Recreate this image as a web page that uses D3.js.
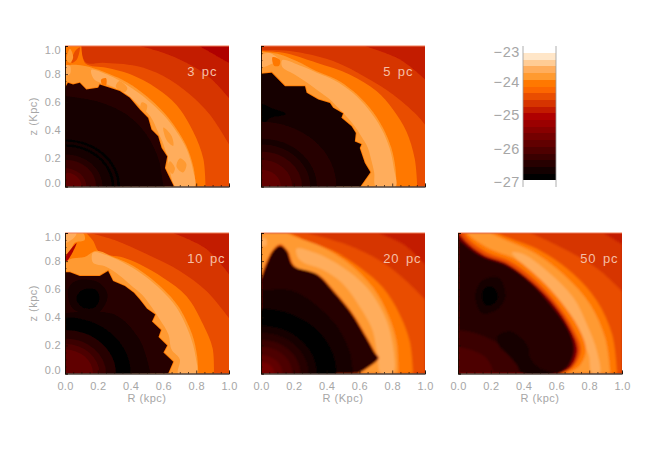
<!DOCTYPE html>
<html>
<head>
<meta charset="utf-8">
<script src="https://cdn.jsdelivr.net/npm/d3@7"></script>
<style>
  body { margin: 0; background: #fff; }
  text { font-family: "Liberation Sans", sans-serif; fill: #a6a6a6; }
</style>
</head>
<body>
<div id="chart"></div>
<script>
// log density colour bands, -27 (black) up to -23 (white), 0.2 dex each
const bandEdges = [-27, -26.8, -26.6, -26.4, -26.2, -26, -25.8, -25.6, -25.4, -25.2, -25,
  -24.8, -24.6, -24.4, -24.2, -24, -23.8, -23.6, -23.4, -23.2, -23];
const bandColors = ["#000000", "#130000", "#270000", "#3a0000", "#4e0000", "#610000", "#740000",
  "#880000", "#9b0000", "#af0000", "#c31a00", "#d63400", "#e94d00", "#fc6600", "#ff7800",
  "#ff9a30", "#ffad5c", "#ffcc95", "#ffe6c8", "#ffffff"];
const barTicks = [-27, -26, -25, -24, -23];
const axisTicks = [0, 0.2, 0.4, 0.6, 0.8, 1];
const axisMinor = [0.05, 0.1, 0.15, 0.25, 0.3, 0.35, 0.45, 0.5, 0.55, 0.65, 0.7, 0.75, 0.85, 0.9, 0.95];

// contours in kpc as [R, z], outer bands first; each one is filled down to the origin.
// "r" is a ring about the origin, "blob" a closed patch, "rim" marks a shock edge
const panel3pc = [
  { band: 10, pts: [[1, 0.88], [0.91, 0.94], [0.82, 1]], outer: 9 },
  { band: 11, pts: [[1, 0.63], [0.884, 0.774], [0.741, 0.88], [0.6, 0.952], [0.456, 1]] },
  { band: 12, pts: [[1, 0.3], [0.884, 0.51], [0.762, 0.655], [0.6, 0.786], [0.436, 0.857], [0.232, 0.881], [0.13, 0.881], [0.09, 1]] },
  { band: 14, pts: [[0.857, 0], [0.843, 0.2], [0.782, 0.39], [0.68, 0.58], [0.558, 0.7], [0.395, 0.8], [0.253, 0.845], [0.125, 0.875], [0.1, 1]] },
  { band: 15, pts: [[0.796, 0], [0.785, 0.13], [0.74, 0.29], [0.68, 0.41], [0.6, 0.53], [0.5, 0.64], [0.38, 0.74], [0.27, 0.8], [0.15, 0.85], [0.08, 0.865], [0.02, 0.86], [0, 0.83]] },
  { band: 16, blob: [[0.16, 0.83], [0.27, 0.79], [0.38, 0.72], [0.5, 0.62], [0.6, 0.51], [0.68, 0.39], [0.74, 0.27], [0.78, 0.12], [0.79, 0], [0.67, 0], [0.645, 0.083], [0.625, 0.2], [0.6, 0.3], [0.57, 0.38], [0.52, 0.5], [0.45, 0.58], [0.37, 0.66], [0.27, 0.72], [0.18, 0.76]] },
  { band: 15, blob: [[0.6, 0.42], [0.65, 0.36], [0.66, 0.29], [0.62, 0.33]] },
  { band: 15, blob: [[0.7, 0.2], [0.74, 0.16], [0.72, 0.1], [0.68, 0.14]] },
  { band: 15, blob: [[0.47, 0.6], [0.5, 0.58], [0.49, 0.53], [0.46, 0.56]] },
  { band: 15, blob: [[0.64, 0.18], [0.67, 0.13], [0.655, 0.09], [0.63, 0.13]] },
  { band: 15, blob: [[0.33, 0.75], [0.38, 0.7], [0.36, 0.67], [0.31, 0.71]] },
  { band: 14, blob: [[0.22, 0.76], [0.25, 0.77], [0.25, 0.72], [0.23, 0.72]] },
  { band: 16, blob: [[0, 0.86], [0.03, 0.86], [0.03, 0.8], [0, 0.79]] },
  { band: 12, blob: [[0.04, 0.88], [0.06, 0.96], [0.09, 0.99], [0.07, 0.9]] },
  { band: 15, blob: [[0.01, 0.9], [0.03, 0.98], [0.05, 0.92], [0.03, 0.88]] },
  { band: 2, rim: 14, pts: [[0.664, 0], [0.629, 0.083], [0.609, 0.131], [0.623, 0.214], [0.589, 0.274], [0.568, 0.357], [0.527, 0.405], [0.507, 0.488], [0.456, 0.548], [0.395, 0.631], [0.334, 0.679], [0.273, 0.702], [0.212, 0.726], [0.202, 0.702], [0.13, 0.69], [0.09, 0.738], [0.049, 0.726], [0.018, 0.738], [0, 0.702]] },
  { band: 1, pts: [[0.599, 0], [0.589, 0.083], [0.568, 0.202], [0.497, 0.369], [0.375, 0.512], [0.191, 0.607], [0, 0.643]] },
  { band: 0, r: 0.335 }, { band: 1, r: 0.32 }, { band: 0, r: 0.3 }, { band: 1, r: 0.285 },
  { band: 2, r: 0.23 }, { band: 3, r: 0.19 }, { band: 4, r: 0.13 }, { band: 5, r: 0.1 }
];
const panel5pc = [
  { band: 11, pts: [[1, 0.762], [0.846, 0.905], [0.633, 1]], outer: 10 },
  { band: 12, pts: [[1, 0.44], [0.947, 0.512], [0.805, 0.655], [0.643, 0.774], [0.44, 0.893], [0.176, 0.964], [0, 0.97]] },
  { band: 14, pts: [[0.953, 0], [0.937, 0.2], [0.886, 0.393], [0.805, 0.548], [0.704, 0.679], [0.54, 0.798], [0.339, 0.881], [0.136, 0.952], [0, 0.965]] },
  { band: 15, pts: [[0.826, 0], [0.82, 0.131], [0.795, 0.274], [0.744, 0.417], [0.663, 0.56], [0.562, 0.679], [0.46, 0.762], [0.339, 0.821], [0.217, 0.893], [0.116, 0.94], [0, 0.96]] },
  { band: 16, blob: [[0.82, 0], [0.81, 0.13], [0.785, 0.27], [0.735, 0.41], [0.655, 0.55], [0.555, 0.67], [0.45, 0.755], [0.34, 0.81], [0.25, 0.855], [0.13, 0.9], [0.13, 0.85], [0.2, 0.8], [0.28, 0.74], [0.35, 0.68], [0.42, 0.62], [0.47, 0.56], [0.52, 0.5], [0.57, 0.43], [0.61, 0.36], [0.65, 0.28], [0.67, 0.2], [0.69, 0.1], [0.7, 0]] },
  { band: 16, blob: [[0, 0.93], [0.05, 0.95], [0.11, 0.9], [0.06, 0.87], [0, 0.85]] },
  { band: 14, blob: [[0.07, 0.92], [0.115, 0.9], [0.11, 0.86], [0.08, 0.86]] },
  { band: 1, rim: 14, pts: [[0.606, 0], [0.667, 0.102], [0.633, 0.167], [0.602, 0.274], [0.612, 0.3], [0.572, 0.321], [0.578, 0.38], [0.552, 0.429], [0.49, 0.49], [0.5, 0.52], [0.44, 0.56], [0.42, 0.595], [0.349, 0.619], [0.278, 0.667], [0.268, 0.714], [0.146, 0.714], [0.065, 0.81], [0, 0.802]] },
  { band: 0, blob: [[0, 0.585], [0.06, 0.56], [0.15, 0.515], [0.06, 0.49], [0, 0.44]] },
  { band: 0, blob: [[0, 0.44], [0.05, 0.42], [0.07, 0.38], [0.05, 0.35], [0, 0.36]] },
  { band: 2, r: 0.46 }, { band: 1, r: 0.34 }, { band: 2, r: 0.3 }, { band: 3, r: 0.25 },
  { band: 4, r: 0.19 }, { band: 5, r: 0.12 }
];
const panel10pc = [
  { band: 11, pts: [[1, 0.706], [0.864, 0.885], [0.66, 1]], outer: 10 },
  { band: 12, pts: [[1, 0.395], [0.864, 0.586], [0.7, 0.73], [0.497, 0.85], [0.314, 0.945], [0.15, 1]] },
  { band: 14, pts: [[0.908, 0], [0.9, 0.18], [0.843, 0.347], [0.741, 0.55], [0.6, 0.68], [0.456, 0.777], [0.354, 0.825], [0.212, 0.861], [0.171, 0.945], [0.13, 1]] },
  { band: 15, pts: [[0.813, 0], [0.805, 0.13], [0.775, 0.28], [0.69, 0.48], [0.6, 0.6], [0.5, 0.7], [0.395, 0.78], [0.293, 0.83], [0.191, 0.873], [0.12, 0.83], [0.05, 0.82], [0, 0.8]] },
  { band: 16, blob: [[0.171, 0.861], [0.26, 0.84], [0.385, 0.77], [0.49, 0.69], [0.59, 0.59], [0.68, 0.47], [0.76, 0.28], [0.795, 0.13], [0.8, 0], [0.69, 0], [0.7, 0.1], [0.65, 0.17], [0.63, 0.28], [0.58, 0.38], [0.53, 0.47], [0.47, 0.56], [0.4, 0.63], [0.33, 0.7], [0.25, 0.76], [0.17, 0.79]] },
  { band: 15, blob: [[0, 1], [0.11, 1], [0.12, 0.95], [0.06, 0.93], [0.03, 0.87], [0, 0.85]] },
  { band: 16, blob: [[0, 1], [0.07, 1], [0.05, 0.96], [0, 0.93]] },
  { band: 9, blob: [[0, 0.82], [0.071, 0.929], [0.05, 0.87], [0.01, 0.8]] },
  { band: 2, rim: 14, pts: [[0.629, 0], [0.66, 0.084], [0.6, 0.15], [0.623, 0.2], [0.57, 0.26], [0.585, 0.31], [0.53, 0.37], [0.55, 0.42], [0.5, 0.46], [0.456, 0.526], [0.42, 0.574], [0.365, 0.622], [0.293, 0.658], [0.263, 0.73], [0.212, 0.694], [0.09, 0.694], [0.03, 0.72], [0, 0.72]] },
  { band: 1, pts: [[0.52, 0], [0.5, 0.1], [0.45, 0.25], [0.3, 0.42], [0, 0.43]] },
  { band: 1, blob: [[0.02, 0.6], [0.07, 0.66], [0.2, 0.65], [0.26, 0.56], [0.2, 0.43], [0.05, 0.46]] },
  { band: 0, blob: [[0.07, 0.53], [0.1, 0.59], [0.18, 0.6], [0.21, 0.54], [0.18, 0.47], [0.11, 0.47]] },
  { band: 0, r: 0.4 }, { band: 2, r: 0.31 }, { band: 3, r: 0.25 }, { band: 4, r: 0.21 }, { band: 5, r: 0.17 }
];
const panel20pc = [
  { band: 11, pts: [[1, 0.778], [0.866, 0.921], [0.714, 1]], outer: 10 },
  { band: 12, pts: [[1, 0.526], [0.886, 0.658], [0.744, 0.79], [0.54, 0.91], [0.278, 1]] },
  { band: 14, pts: [[0.927, 0], [0.907, 0.227], [0.846, 0.419], [0.744, 0.61], [0.602, 0.754], [0.44, 0.873], [0.278, 0.945], [0.176, 1]] },
  { band: 15, pts: [[0.836, 0], [0.826, 0.227], [0.775, 0.419], [0.684, 0.61], [0.542, 0.778], [0.379, 0.897], [0.217, 0.969], [0.156, 1]] },
  { band: 16, blob: [[0.217, 0.89], [0.339, 0.855], [0.5, 0.755], [0.643, 0.615], [0.75, 0.42], [0.8, 0.23], [0.805, 0], [0.73, 0], [0.71, 0.13], [0.676, 0.32], [0.594, 0.49], [0.493, 0.646], [0.37, 0.742], [0.258, 0.79], [0.225, 0.825]] },
  { band: 16, blob: [[0, 0.96], [0.03, 0.96], [0.03, 0.91], [0, 0.91]] },
  { band: 12, pts: [[0.6, 0], [0.72, 0.108], [0.7, 0.144], [0.65, 0.251], [0.55, 0.443], [0.448, 0.586], [0.347, 0.706], [0.205, 0.766], [0.164, 0.873], [0.116, 0.92], [0.068, 0.873], [0.026, 0.778], [0, 0.69]] },
  { band: 2, pts: [[0.592, 0], [0.714, 0.108], [0.694, 0.144], [0.643, 0.251], [0.542, 0.443], [0.44, 0.586], [0.339, 0.706], [0.197, 0.766], [0.156, 0.873], [0.116, 0.909], [0.075, 0.873], [0.034, 0.778], [0, 0.67]] },
  { band: 1, pts: [[0.56, 0], [0.54, 0.155], [0.44, 0.37], [0.197, 0.586], [0, 0.586]] },
  { band: 0, r: 0.46 }, { band: 1, r: 0.34 }, { band: 2, r: 0.29 }, { band: 3, r: 0.24 },
  { band: 4, r: 0.19 }, { band: 5, r: 0.13 }, { band: 6, r: 0.08 }
];
const panel50pc = [
  { band: 11, pts: [[1, 0.92], [0.888, 1]], outer: 10 },
  { band: 12, pts: [[1, 0.586], [0.868, 0.73], [0.705, 0.85], [0.5, 0.97], [0.44, 1]] },
  { band: 14, pts: [[0.97, 0], [0.94, 0.275], [0.848, 0.514], [0.705, 0.706], [0.502, 0.873], [0.299, 0.969], [0.238, 1]] },
  { band: 15, pts: [[0.929, 0], [0.898, 0.251], [0.807, 0.49], [0.665, 0.682], [0.482, 0.849], [0.278, 0.957], [0.197, 1]] },
  { band: 16, blob: [[0.329, 0.861], [0.4, 0.849], [0.543, 0.73], [0.705, 0.538], [0.787, 0.347], [0.848, 0.155], [0.864, 0], [0.817, 0], [0.797, 0.132], [0.756, 0.239], [0.665, 0.395], [0.522, 0.61], [0.421, 0.754], [0.35, 0.825]] },
  { band: 14, pts: [[0.654, 0], [0.736, 0.048], [0.78, 0.167], [0.736, 0.323], [0.634, 0.502], [0.502, 0.67], [0.35, 0.813], [0.197, 0.885], [0.096, 0.957], [0.055, 1]] },
  { band: 12, pts: [[0.634, 0], [0.705, 0.048], [0.75, 0.167], [0.701, 0.323], [0.6, 0.502], [0.465, 0.67], [0.319, 0.797], [0.177, 0.861], [0.075, 0.945], [0.035, 1]] },
  { band: 8, pts: [[0.62, 0], [0.691, 0.048], [0.73, 0.167], [0.681, 0.323], [0.579, 0.502], [0.445, 0.658], [0.299, 0.782], [0.157, 0.844], [0.065, 0.921], [0.004, 1]] },
  { band: 5, pts: [[0.617, 0], [0.683, 0.054], [0.717, 0.173], [0.673, 0.323], [0.571, 0.496], [0.443, 0.652], [0.299, 0.774], [0.157, 0.834], [0.07, 0.903], [0, 0.98]] },
  { band: 2, pts: [[0.614, 0], [0.675, 0.06], [0.705, 0.179], [0.665, 0.323], [0.563, 0.49], [0.441, 0.646], [0.299, 0.766], [0.157, 0.825], [0.075, 0.885], [0, 0.957]] },
  { band: 3, pts: [[0.38, 0], [0.34, 0.11], [0.25, 0.21], [0.1, 0.29], [0, 0.31]] },
  { band: 4, pts: [[0.22, 0], [0.18, 0.1], [0.1, 0.16], [0, 0.19]] },
  { band: 1, blob: [[0.238, 0.263], [0.319, 0.299], [0.421, 0.203], [0.441, 0.108], [0.5, 0.036], [0.6, 0], [0.39, 0], [0.36, 0.06], [0.3, 0.14], [0.25, 0.2]] },
  { band: 1, blob: [[0.106, 0.55], [0.146, 0.658], [0.248, 0.682], [0.289, 0.55], [0.238, 0.455], [0.146, 0.431]] },
  { band: 0, blob: [[0.146, 0.55], [0.167, 0.61], [0.217, 0.61], [0.242, 0.538], [0.207, 0.49], [0.167, 0.49]] }
];

const panelNames = ["3 pc", "5 pc", "10 pc", "20 pc", "50 pc"];
const panelContours = [panel3pc, panel5pc, panel10pc, panel20pc, panel50pc];
const xTitles = [null, null, "R (kpc)", "R (Kpc)", "R (kpc)"];
const yTitles = ["z (Kpc)", null, "z (kpc)", null, null];

const W = 654, H = 467;
const panelW = 164, panelH = 140.5;
const panelPos = [[65, 46], [261, 46], [65, 233], [261, 233], [458, 233]];
const panelSoft = [0.6, 0.6, 0.6, 0.8, 1.2]; // coarser runs look smoother

const svg = d3.select("#chart").append("svg")
  .attr("width", W)
  .attr("height", H)
  .style("display", "block");

const defs = svg.append("defs");

const x = d3.scaleLinear().domain([0, 1]).range([0, panelW]);
const y = d3.scaleLinear().domain([0, 1]).range([panelH, 0]);
const line = d3.line().x(d => x(d[0])).y(d => y(d[1])).curve(d3.curveCatmullRom.alpha(0.5));
const jagLine = d3.line().x(d => x(d[0])).y(d => y(d[1]));
const blobLine = d3.line().x(d => x(d[0])).y(d => y(d[1])).curve(d3.curveCatmullRomClosed.alpha(0.5));

function regionPath(edge) {
  // run the contour, then go round the far corners back to the origin side
  return edge + `L${x(0)},${y(1)}L${x(0)},${y(0)}L${x(1)},${y(0)}Z`;
}

panelContours.forEach((contours, i) => {
  const g = svg.append("g").attr("transform", `translate(${panelPos[i][0]},${panelPos[i][1]})`);

  defs.append("clipPath").attr("id", `clip${i}`)
    .append("rect").attr("width", panelW).attr("height", panelH);
  defs.append("filter").attr("id", `soft${i}`)
    .attr("x", "-5%").attr("y", "-5%").attr("width", "110%").attr("height", "110%")
    .append("feGaussianBlur").attr("stdDeviation", panelSoft[i]);

  const clipped = g.append("g").attr("clip-path", `url(#clip${i})`);
  const field = clipped.append("g").attr("filter", `url(#soft${i})`);

  field.append("rect")
    .attr("x", -4).attr("y", -4)
    .attr("width", panelW + 8).attr("height", panelH + 8)
    .attr("fill", bandColors[contours[0].outer]);

  contours.forEach(c => {
    if (c.r !== undefined) {
      field.append("ellipse")
        .attr("cx", x(0)).attr("cy", y(0))
        .attr("rx", x(c.r) - x(0)).attr("ry", y(0) - y(c.r))
        .attr("fill", bandColors[c.band]);
    } else if (c.blob) {
      field.append("path").attr("d", blobLine(c.blob)).attr("fill", bandColors[c.band]);
    } else if (c.rim !== undefined) {
      // shock fronts stay toothed, and carry a thin brighter edge
      field.append("path").attr("d", jagLine(c.pts))
        .attr("fill", "none")
        .attr("stroke", bandColors[c.rim]).attr("stroke-width", 1.6);
      field.append("path").attr("d", regionPath(jagLine(c.pts))).attr("fill", bandColors[c.band]);
    } else {
      field.append("path").attr("d", regionPath(line(c.pts))).attr("fill", bandColors[c.band]);
    }
  });

  // thin pale row along the top of the image
  g.append("line")
    .attr("x1", x(0)).attr("x2", x(1))
    .attr("y1", y(1)).attr("y2", y(1))
    .attr("stroke", "#ef7a55").attr("stroke-width", 1);

  // axes, ticks point inward
  const bottom = g.append("g").attr("transform", `translate(0,${panelH})`);
  bottom.call(d3.axisBottom(x).tickValues(axisMinor).tickSize(-1.5).tickFormat(""));
  const bottomMajor = g.append("g").attr("transform", `translate(0,${panelH})`);
  bottomMajor.call(d3.axisBottom(x).tickValues(axisTicks).tickSize(-3).tickPadding(9).tickFormat(d3.format(".1f")));

  const left = g.append("g");
  left.call(d3.axisLeft(y).tickValues(axisMinor).tickSize(-1.5).tickFormat(""));
  const leftMajor = g.append("g");
  if (i === 0 || i === 2) {
    leftMajor.call(d3.axisLeft(y).tickValues(axisTicks).tickSize(-3).tickPadding(4).tickFormat(d3.format(".1f")));
    // end labels sit inside the axis span
    leftMajor.selectAll(".tick text")
      .attr("dy", d => d === 0 ? "-0.04em" : d === 1 ? "0.72em" : "0.32em");
  } else {
    leftMajor.call(d3.axisLeft(y).tickValues(axisTicks).tickSize(-3).tickFormat(""));
  }

  g.selectAll(".domain").attr("stroke", "#1a0a00").attr("stroke-width", 0.7);
  g.selectAll(".tick line").attr("stroke", "#1a0a00").attr("stroke-width", 0.7);
  g.selectAll(".tick text")
    .attr("font-size", 11)
    .attr("font-family", '"Liberation Sans", sans-serif')
    .attr("letter-spacing", 0.3)
    .attr("fill", "#a6a6a6");

  if (i < 2) bottomMajor.selectAll(".tick text").remove();

  if (xTitles[i]) {
    g.append("text")
      .attr("x", x(0.5)).attr("y", panelH + 28)
      .attr("text-anchor", "middle")
      .attr("font-size", 11)
      .attr("letter-spacing", 0.5)
      .text(xTitles[i]);
  }
  if (yTitles[i]) {
    g.append("text")
      .attr("transform", `translate(-28,${y(0.5)}) rotate(-90)`)
      .attr("text-anchor", "middle")
      .attr("font-size", 11)
      .attr("letter-spacing", 0.5)
      .text(yTitles[i]);
  }

  g.append("text")
    .attr("x", x(0.745))
    .attr("y", y(0.79))
    .attr("font-size", 13)
    .attr("letter-spacing", 0.9)
    .attr("word-spacing", 2)
    .style("fill", "#f5bfa6")
    .text(panelNames[i]);
});

// colour bar
const barX = 523, barW = 33;
const barY = d3.scaleLinear().domain([-27, -23]).range([180, 46]);
const bar = svg.append("g");

bar.selectAll("rect")
  .data(bandColors)
  .enter()
  .append("rect")
  .attr("x", barX)
  .attr("width", barW)
  .attr("y", (d, i) => barY(bandEdges[i + 1]))
  .attr("height", (d, i) => barY(bandEdges[i]) - barY(bandEdges[i + 1]) + 0.3)
  .attr("shape-rendering", "crispEdges")
  .attr("fill", d => d);

[barX, barX + barW].forEach(px => {
  bar.append("line")
    .attr("x1", px).attr("x2", px)
    .attr("y1", barY(-23)).attr("y2", 187)
    .attr("stroke", "#9a9a9a").attr("stroke-width", 0.8);
});

bar.selectAll("text")
  .data(barTicks)
  .enter()
  .append("text")
  .attr("x", barX - 3)
  .attr("y", d => barY(d) + (d === -23 ? 6 : 2))
  .attr("dy", "0.36em")
  .attr("text-anchor", "end")
  .attr("font-size", 14.5)
  .attr("letter-spacing", 0.6)
  .text(d => "\u2212" + Math.abs(d));
</script>
</body>
</html>
